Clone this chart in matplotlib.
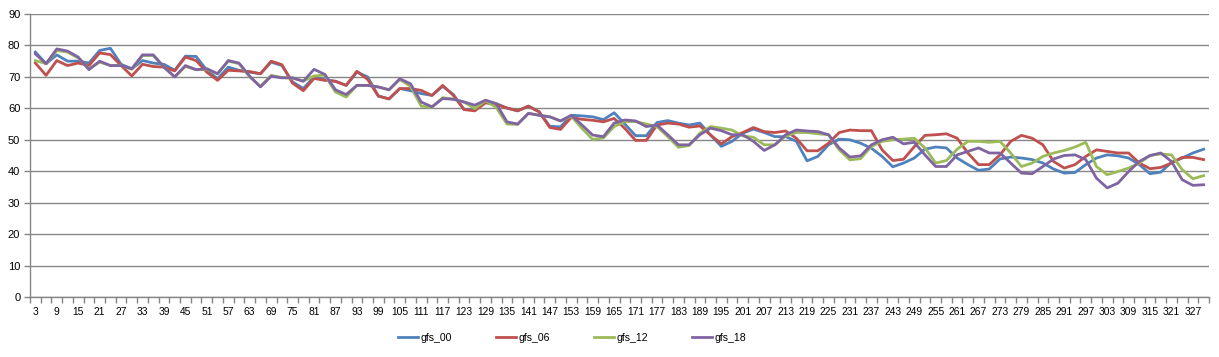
import numpy as np
import matplotlib
matplotlib.use("Agg")
import matplotlib.pyplot as plt

hours = list(range(3, 331, 3))

gfs_00 = [77.9, 74.2, 77.0, 75.0, 75.0, 74.4, 78.4, 79.1, 74.0, 72.6,
          75.2, 74.4, 74.0, 72.1, 76.6, 76.5, 72.1, 69.4, 73.1, 72.1,
          71.5, 71.0, 74.7, 73.6, 68.4, 66.3, 70.0, 69.1, 68.6, 67.3,
          71.5, 70.0, 63.9, 63.0, 66.3, 65.6, 64.7, 64.1, 67.0, 64.4,
          59.6, 59.6, 61.8, 61.5, 60.1, 59.2, 60.7, 58.9, 54.3, 54.1,
          57.8, 57.6, 57.3, 56.4, 58.6, 55.0, 51.3, 51.3, 55.5, 56.1,
          55.3, 54.7, 55.3, 51.5, 47.9, 49.5, 52.1, 53.4, 52.3, 51.0,
          51.0, 49.5, 43.3, 44.7, 48.4, 50.2, 50.0, 48.9, 47.3, 44.7,
          41.4, 42.6, 44.2, 47.0, 47.7, 47.4, 44.2, 42.1, 40.3, 40.7,
          43.9, 44.5, 44.2, 43.7, 42.6, 40.7, 39.4, 39.6, 42.1, 44.2,
          45.2, 44.9, 44.2, 42.1, 39.2, 39.7, 42.8, 44.2, 45.8, 47.0]

gfs_06 = [74.4, 70.5, 75.2, 73.6, 74.4, 73.6, 77.6, 77.1, 73.6, 70.3,
          74.0, 73.3, 73.1, 71.9, 76.3, 75.2, 71.5, 68.9, 72.1, 71.9,
          71.7, 71.0, 75.0, 73.9, 68.0, 65.6, 69.5, 68.9, 68.6, 67.3,
          71.8, 69.2, 63.9, 63.0, 66.3, 66.3, 65.7, 64.1, 67.3, 64.1,
          59.6, 59.2, 61.8, 61.2, 60.1, 59.2, 60.7, 58.9, 53.9, 53.3,
          57.1, 56.5, 56.2, 55.7, 56.8, 53.6, 49.8, 49.8, 54.7, 55.3,
          55.0, 54.0, 54.4, 51.5, 48.7, 51.0, 52.3, 53.9, 52.6, 52.3,
          52.8, 50.5, 46.5, 46.5, 48.9, 52.3, 53.1, 52.9, 52.9, 46.8,
          43.4, 43.8, 47.8, 51.4, 51.6, 51.9, 50.5, 45.8, 42.1, 42.1,
          45.2, 49.5, 51.4, 50.5, 48.4, 43.1, 41.0, 42.1, 44.7, 46.8,
          46.3, 45.8, 45.8, 42.6, 40.8, 41.2, 42.6, 44.4, 44.4, 43.7]

gfs_12 = [75.2, 74.2, 78.4, 77.9, 76.0, 72.6, 74.7, 73.6, 73.6, 72.4,
          76.8, 76.8, 73.1, 70.0, 73.3, 72.3, 72.4, 71.0, 75.0, 74.2,
          70.0, 67.0, 70.5, 69.8, 69.6, 68.7, 70.3, 70.6, 65.2, 63.6,
          67.3, 67.3, 66.8, 65.9, 69.2, 67.0, 60.7, 60.3, 63.4, 62.9,
          62.0, 59.9, 62.4, 60.3, 55.0, 54.9, 58.4, 57.8, 57.3, 56.0,
          57.5, 53.6, 50.1, 50.6, 54.2, 55.8, 55.8, 55.0, 54.2, 51.0,
          47.6, 48.2, 52.1, 54.2, 53.7, 53.1, 51.2, 50.8, 48.4, 48.4,
          51.2, 52.3, 52.3, 51.9, 51.6, 46.8, 43.6, 44.0, 47.9, 49.5,
          50.0, 50.2, 50.5, 47.4, 42.6, 43.4, 47.0, 49.5, 49.5, 49.2,
          49.5, 45.8, 41.5, 42.6, 44.7, 45.8, 46.6, 47.7, 49.2, 41.5,
          38.9, 39.9, 41.0, 42.6, 45.0, 45.5, 45.2, 40.5, 37.6, 38.6]

gfs_18 = [77.3, 74.2, 78.9, 78.2, 76.3, 72.3, 75.0, 73.6, 73.6, 72.6,
          77.0, 77.0, 73.1, 70.0, 73.6, 72.3, 72.6, 71.0, 75.2, 74.4,
          70.2, 66.8, 70.2, 69.7, 69.7, 68.6, 72.4, 70.8, 65.9, 64.4,
          67.3, 67.3, 66.8, 65.9, 69.4, 67.8, 62.0, 60.5, 63.1, 62.9,
          62.0, 61.0, 62.6, 61.5, 55.7, 55.0, 58.4, 57.8, 57.3, 56.0,
          57.8, 54.7, 51.5, 51.0, 55.3, 56.3, 56.0, 54.2, 54.7, 51.6,
          48.4, 48.4, 51.6, 53.7, 52.9, 51.6, 51.6, 49.5, 46.6, 48.4,
          51.6, 53.1, 52.8, 52.6, 51.6, 47.4, 44.5, 44.9, 48.4, 50.0,
          50.8, 48.7, 49.2, 45.2, 41.5, 41.5, 45.2, 46.3, 47.4, 45.8,
          45.8, 42.6, 39.4, 39.2, 41.5, 43.9, 45.0, 45.2, 43.7, 37.8,
          34.7, 36.2, 39.9, 43.1, 45.0, 45.8, 43.1, 37.3, 35.5, 35.7]

series_names = ["gfs_00", "gfs_06", "gfs_12", "gfs_18"]
series_colors = ["#4F81BD", "#C0504D", "#9BBB59", "#8064A2"]

plt.rcParams["font.family"] = ["Liberation Sans", "DejaVu Sans"]

fig = plt.figure(figsize=(12.19, 3.57), dpi=100)
ax = fig.add_axes([30 / 1219, 1 - 297 / 357, 1179 / 1219, 283 / 357])

pos = np.arange(len(hours))
for name, vals, col in zip(series_names, [gfs_00, gfs_06, gfs_12, gfs_18], series_colors):
    ax.plot(pos, vals, color=col, lw=2.0, label=name, solid_joinstyle="round")

ax.set_xlim(-0.5, len(hours) - 0.5)
ax.set_ylim(0, 90)
ax.set_yticks(range(0, 91, 10))
ax.yaxis.grid(True, color="#868686", lw=1)
ax.set_axisbelow(True)

ax.set_xticks(pos[::2])
ax.set_xticklabels([str(h) for h in hours[::2]], fontsize=7.4)
ax.set_xticks(np.arange(-0.5, len(hours), 1), minor=True)
ax.tick_params(axis="x", which="major", length=0, pad=7)
ax.tick_params(axis="x", which="minor", length=4, color="#868686", width=1)
ax.tick_params(axis="y", length=4, color="#868686", width=1, labelsize=8, pad=3)

for s in ["top", "right"]:
    ax.spines[s].set_visible(False)
for s in ["left", "bottom"]:
    ax.spines[s].set_color("#868686")
    ax.spines[s].set_linewidth(1)

fig.legend(loc="center", bbox_to_anchor=(572 / 1219, 1 - 338 / 357), ncol=4,
           frameon=False, fontsize=7.6, handlelength=1.9, handletextpad=0.2,
           columnspacing=4.2)

fig.savefig("out.png", dpi=100)
